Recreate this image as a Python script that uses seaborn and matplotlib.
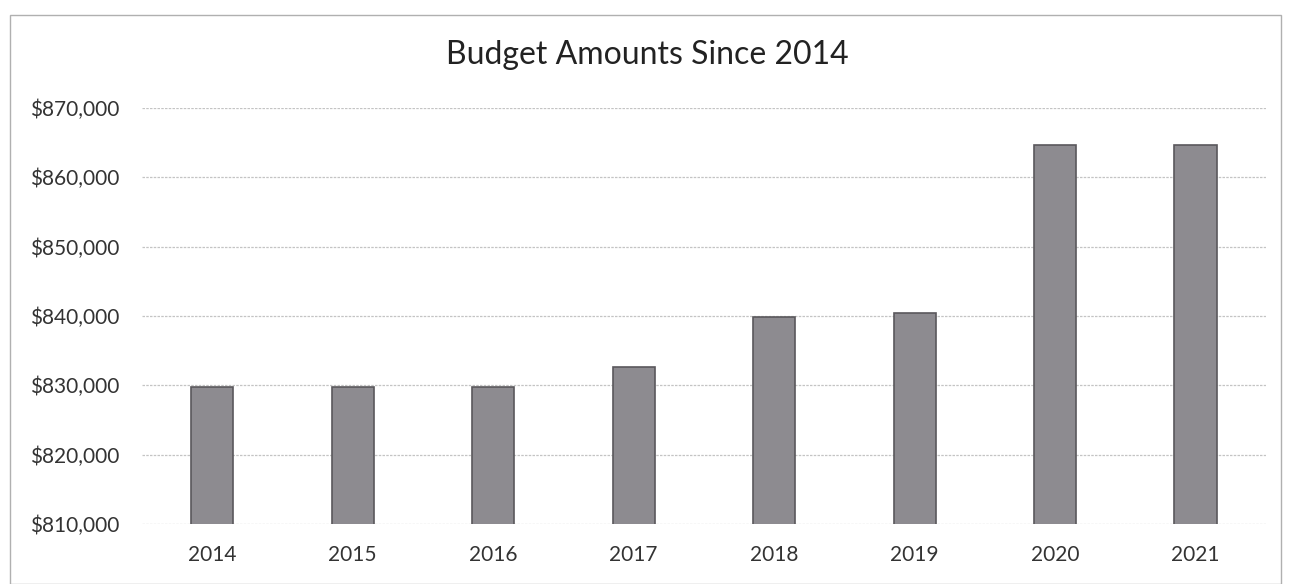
import matplotlib
matplotlib.use("Agg")
import matplotlib.pyplot as plt
import seaborn as sns
import pandas as pd
from matplotlib.patches import Rectangle
from matplotlib.ticker import FuncFormatter, MultipleLocator

years = ["2014", "2015", "2016", "2017", "2018", "2019", "2020", "2021"]
budgets = [829800, 829700, 829800, 832600, 839800, 840400, 864600, 864600]
title = "Budget Amounts Since 2014"

sns.set_theme(style="white")
plt.rcParams['font.family'] = ['Lato', 'DejaVu Sans']

df = pd.DataFrame({"year": years, "budget": budgets})

fig = plt.figure(figsize=(12.94, 5.84), dpi=100)
ax = fig.add_axes([0.1097, 0.1027, 0.8685, 0.7123])

sns.barplot(data=df, x="year", y="budget", ax=ax, color="#8d8b90",
            width=0.3, edgecolor="#5a585c", linewidth=1.2, saturation=1)

ax.set_ylim(810000, 870000)
ax.yaxis.set_major_locator(MultipleLocator(10000))
ax.yaxis.set_major_formatter(FuncFormatter(lambda v, p: f"${v:,.0f}"))
ax.grid(axis="y", color="#c4c4c4", linewidth=0.9, linestyle=(0, (2, 1)))
ax.set_axisbelow(True)
for s in ax.spines.values():
    s.set_visible(False)
ax.set_xlabel("")
ax.set_ylabel("")
ax.tick_params(axis="both", length=0, labelsize=15, colors="#333333")
ax.tick_params(axis="y", pad=16)
ax.tick_params(axis="x", pad=15)
for lab in ax.get_yticklabels() + ax.get_xticklabels():
    lab.set_color("#333333")

fig.text(0.5, 0.905, title, ha="center", va="center", fontsize=23, color="#222222")

fig.patches.append(Rectangle((0.008, 0.0), 0.982, 0.975, transform=fig.transFigure,
                             fill=False, edgecolor="#b0b0b0", linewidth=1.0))

fig.savefig("out.png", dpi=100)
